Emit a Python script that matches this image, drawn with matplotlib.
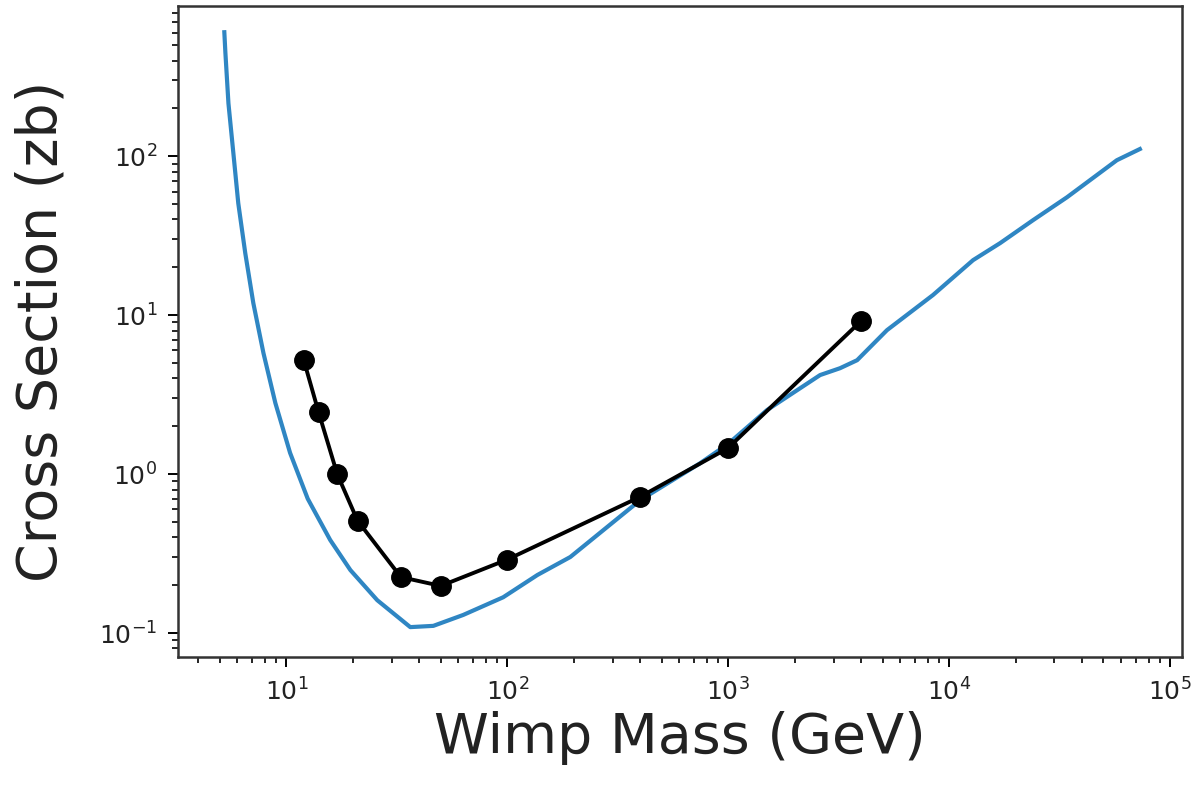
import matplotlib
matplotlib.use("Agg")
import matplotlib.pyplot as plt
import numpy as np

# limit curve (blue)
curve_mass = [5.24, 5.30, 5.47, 5.76, 6.06, 6.52, 7.09, 7.88, 8.92, 10.4, 12.5, 15.8,
              19.5, 25.8, 36.4, 46.3, 63.2, 95.9, 137, 193, 400, 746, 1000, 1500, 2608,
              3212, 3837, 5237, 8466, 12850, 17030, 24000, 34200, 57500, 73100]
curve_xsec = [603, 445, 215, 104, 50.6, 24.5, 11.9, 5.77, 2.80, 1.36, 0.70, 0.385,
              0.249, 0.161, 0.109, 0.111, 0.130, 0.168, 0.232, 0.301, 0.686, 1.17, 1.55,
              2.53, 4.2, 4.64, 5.21, 8.05, 13.4, 22.2, 28.4, 39.6, 55.2, 94.4, 111]

# measured points (black)
pt_mass = [12, 14, 17, 21, 33, 50, 100, 400, 1000, 4000]
pt_xsec = [5.2, 2.45, 1.0, 0.51, 0.225, 0.198, 0.29, 0.72, 1.46, 9.2]

fig = plt.figure(figsize=(11.96, 7.86), dpi=100)
ax = fig.add_axes([0.149, 0.164, 0.839, 0.828])

ax.plot(curve_mass, curve_xsec, color="#2f86c3", lw=3)
ax.plot(pt_mass, pt_xsec, "o-", color="black", lw=2.8, ms=14)

ax.set_xscale("log")
ax.set_yscale("log")
ax.set_xlim(3.24, 1.13e5)
ax.set_ylim(0.0706, 878)

ax.set_xlabel("Wimp Mass (GeV)", fontsize=40, color="#222222")
ax.set_ylabel("Cross Section (zb)", fontsize=40, color="#222222", labelpad=22)

ax.tick_params(which="major", length=7, width=1.4, labelsize=18, labelcolor="#222222", pad=8)
ax.tick_params(which="minor", length=4, width=1.2)
for s in ax.spines.values():
    s.set_linewidth(1.8)
    s.set_color("#333333")

fig.savefig("out.png", dpi=100)
